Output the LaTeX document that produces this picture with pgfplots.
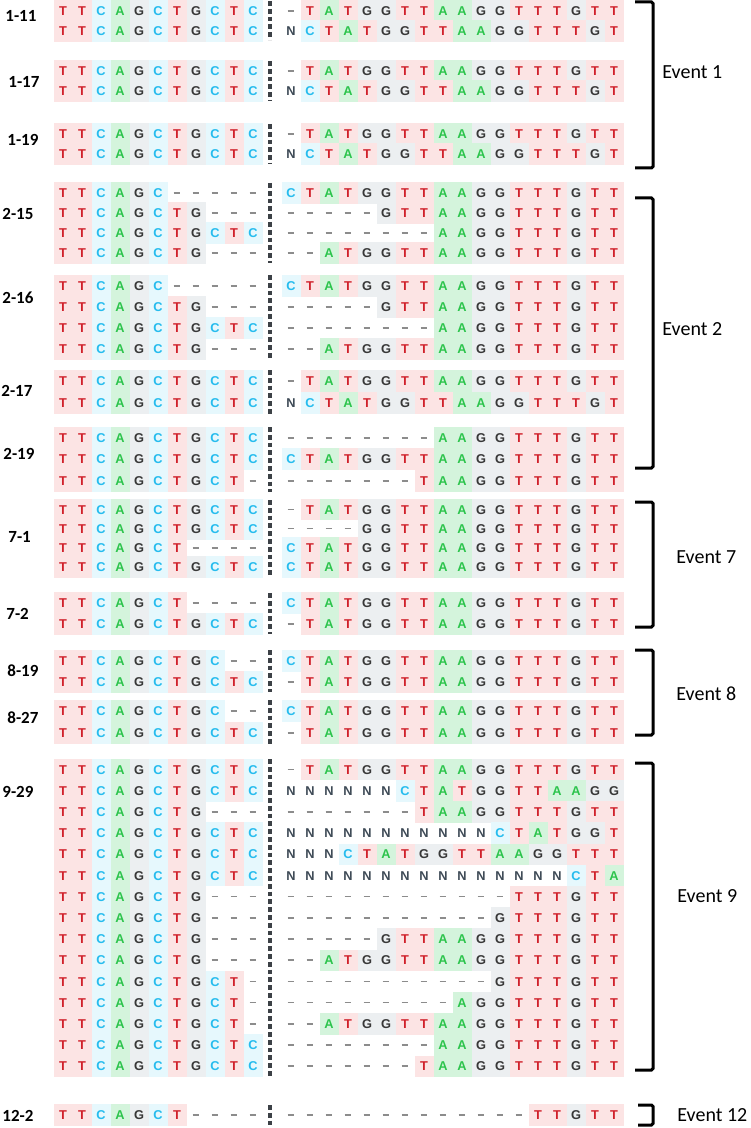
\documentclass[border=0pt]{standalone}
\usepackage{fontspec}
\setmainfont{Carlito}
\newfontfamily\seqfont{Liberation Sans}
\usepackage{pgfplots}
\pgfplotsset{compat=1.18}
\usepackage{pgfplotstable}

\definecolor{tT}{HTML}{D0202A}
\definecolor{bT}{HTML}{FCE4E4}
\definecolor{tC}{HTML}{26BCEE}
\definecolor{bC}{HTML}{E6F8FD}
\definecolor{tA}{HTML}{2CC44C}
\definecolor{bA}{HTML}{D4F4DC}
\definecolor{tG}{HTML}{383838}
\definecolor{bG}{HTML}{ECEFF1}
\definecolor{tN}{HTML}{3E4A56}
\definecolor{tGap}{HTML}{8C8C8C}
\definecolor{sepc}{HTML}{3C4146}

\newcommand\cellstrut{\rule[-3.1pt]{0pt}{10.75pt}}
\newcommand\cellbg[3]{{\setlength\fboxsep{0pt}\colorbox{#1}{\makebox[9.5pt]{\cellstrut\textcolor{#2}{\seqfont\bfseries #3}}}}}
\expandafter\def\csname cell@T\endcsname{\cellbg{bT}{tT}{T}}
\expandafter\def\csname cell@C\endcsname{\cellbg{bC}{tC}{C}}
\expandafter\def\csname cell@A\endcsname{\cellbg{bA}{tA}{A}}
\expandafter\def\csname cell@G\endcsname{\cellbg{bG}{tG}{G}}
\expandafter\def\csname cell@N\endcsname{\makebox[9.5pt]{\cellstrut\textcolor{tN}{\seqfont\bfseries N}}}
\expandafter\def\csname cell@-\endcsname{\makebox[9.5pt]{\cellstrut\textcolor{tGap}{\rule[2pt]{3.4pt}{0.8pt}}}}
\newcommand\cell[1]{\csname cell@#1\endcsname}

% alignment: y (pixel row), 11 columns before the cut, 18 columns after
\pgfplotstableread{
y      L0 L1 L2 L3 L4 L5 L6 L7 L8 L9 L10 R0 R1 R2 R3 R4 R5 R6 R7 R8 R9 R10 R11 R12 R13 R14 R15 R16 R17
11     T T C A G C T G C T C  - T A T G G T T A A G G T T T G T T
31     T T C A G C T G C T C  N C T A T G G T T A A G G T T T G T
71     T T C A G C T G C T C  - T A T G G T T A A G G T T T G T T
91     T T C A G C T G C T C  N C T A T G G T T A A G G T T T G T
134    T T C A G C T G C T C  - T A T G G T T A A G G T T T G T T
154    T T C A G C T G C T C  N C T A T G G T T A A G G T T T G T
193    T T C A G C - - - - -  C T A T G G T T A A G G T T T G T T
213    T T C A G C T G - - -  - - - - - G T T A A G G T T T G T T
233    T T C A G C T G C T C  - - - - - - - - A A G G T T T G T T
253    T T C A G C T G - - -  - - A T G G T T A A G G T T T G T T
286    T T C A G C - - - - -  C T A T G G T T A A G G T T T G T T
307    T T C A G C T G - - -  - - - - - G T T A A G G T T T G T T
328    T T C A G C T G C T C  - - - - - - - - A A G G T T T G T T
349    T T C A G C T G - - -  - - A T G G T T A A G G T T T G T T
381    T T C A G C T G C T C  - T A T G G T T A A G G T T T G T T
403    T T C A G C T G C T C  N C T A T G G T T A A G G T T T G T
438    T T C A G C T G C T C  - - - - - - - - A A G G T T T G T T
459    T T C A G C T G C T C  C T A T G G T T A A G G T T T G T T
481    T T C A G C T G C T -  - - - - - - - T A A G G T T T G T T
509.6  T T C A G C T G C T C  - T A T G G T T A A G G T T T G T T
528.8  T T C A G C T G C T C  - - - - G G T T A A G G T T T G T T
548    T T C A G C T - - - -  C T A T G G T T A A G G T T T G T T
567.2  T T C A G C T G C T C  C T A T G G T T A A G G T T T G T T
603    T T C A G C T - - - -  C T A T G G T T A A G G T T T G T T
624    T T C A G C T G C T C  - T A T G G T T A A G G T T T G T T
661    T T C A G C T G C - -  C T A T G G T T A A G G T T T G T T
682    T T C A G C T G C T C  - T A T G G T T A A G G T T T G T T
711    T T C A G C T G C - -  C T A T G G T T A A G G T T T G T T
733    T T C A G C T G C T C  - T A T G G T T A A G G T T T G T T
769.6  T T C A G C T G C T C  - T A T G G T T A A G G T T T G T T
790.8  T T C A G C T G C T C  N N N N N N C T A T G G T T A A G G
812.0  T T C A G C T G - - -  - - - - - - - T A A G G T T T G T T
833.2  T T C A G C T G C T C  N N N N N N N N N N N C T A T G G T
854.4  T T C A G C T G C T C  N N N C T A T G G T T A A G G T T T
875.6  T T C A G C T G C T C  N N N N N N N N N N N N N N N C T A
896.8  T T C A G C T G - - -  - - - - - - - - - - - - T T T G T T
918.0  T T C A G C T G - - -  - - - - - - - - - - - G T T T G T T
939.2  T T C A G C T G - - -  - - - - - G T T A A G G T T T G T T
960.4  T T C A G C T G - - -  - - A T G G T T A A G G T T T G T T
981.6  T T C A G C T G C T -  - - - - - - - - - - - G T T T G T T
1002.8 T T C A G C T G C T -  - - - - - - - - - A G G T T T G T T
1024.0 T T C A G C T G C T -  - - A T G G T T A A G G T T T G T T
1045.2 T T C A G C T G C T C  - - - - - - - - A A G G T T T G T T
1066.4 T T C A G C T G C T C  - - - - - - - T A A G G T T T G T T
1115   T T C A G C T - - - -  - - - - - - - - - - - - - T T G T T
}\aln

\begin{document}
\begin{tikzpicture}
\begin{axis}[
  x=0.5pt, y=0.5pt,
  xmin=0, xmax=750, ymin=0, ymax=1128, y dir=reverse,
  hide axis, clip=false,
  cellplot/.style={only marks, mark=none, point meta=explicit symbolic,
    nodes near coords={\cell{\pgfplotspointmeta}},
    every node near coord/.append style={anchor=center, inner sep=0pt, outer sep=0pt,
      font=\fontsize{6.4}{7}\selectfont}},
  sepline/.style={sepc, line width=1.6pt, dash pattern=on 2.4pt off 1.5pt, mark=none},
  bracket/.style={black, line width=1.5pt, rounded corners=0.8pt, mark=none},
]
\addplot[draw=none, mark=none] coordinates {(0,0) (750,1128)};

\pgfplotsinvokeforeach{0,...,10}{
  \addplot[cellplot] table[x expr={63+19*#1}, y=y, meta=L#1] {\aln};
}
\pgfplotsinvokeforeach{0,...,17}{
  \addplot[cellplot] table[x expr={291+19*#1}, y=y, meta=R#1] {\aln};
}

% cut marks between the two halves, one per clone
\addplot[sepline] coordinates {(270,1) (270,40)};
\addplot[sepline] coordinates {(270,61) (270,101)};
\addplot[sepline] coordinates {(270,124) (270,164)};
\addplot[sepline] coordinates {(270,183) (270,263)};
\addplot[sepline] coordinates {(270,275) (270,360)};
\addplot[sepline] coordinates {(270,370) (270,414)};
\addplot[sepline] coordinates {(270,427) (270,492)};
\addplot[sepline] coordinates {(270,500) (270,577)};
\addplot[sepline] coordinates {(270,593) (270,634)};
\addplot[sepline] coordinates {(270,650) (270,692)};
\addplot[sepline] coordinates {(270,700) (270,744)};
\addplot[sepline] coordinates {(270,759) (270,1077)};
\addplot[sepline] coordinates {(270,1105) (270,1126)};

% brackets
\addplot[bracket] coordinates {(635,2) (653,2) (653,168) (635,168)};
\addplot[bracket] coordinates {(635,198) (653,198) (653,468) (635,468)};
\addplot[bracket] coordinates {(635,502) (653,502) (653,627) (635,627)};
\addplot[bracket] coordinates {(635,650) (653,650) (653,735) (635,735)};
\addplot[bracket] coordinates {(635,763) (653,763) (653,1070) (635,1070)};
\addplot[bracket] coordinates {(638,1105) (653,1105) (653,1125) (638,1125)};

\begin{scope}[every node/.style={anchor=west, inner sep=0pt, font=\fontsize{10}{12}\selectfont}]
\node at (axis cs:662,72) {Event 1};
\node at (axis cs:662,329) {Event 2};
\node at (axis cs:676,557) {Event 7};
\node at (axis cs:676,694) {Event 8};
\node at (axis cs:677,896) {Event 9};
\node at (axis cs:677,1115) {Event 12};
\end{scope}

\begin{scope}[every node/.style={anchor=west, inner sep=0pt, font=\fontsize{8.5}{10}\selectfont\bfseries}]
\node at (axis cs:5,16) {1-11};
\node at (axis cs:8,82) {1-17};
\node at (axis cs:7,140) {1-19};
\node at (axis cs:2,214) {2-15};
\node at (axis cs:2,298) {2-16};
\node at (axis cs:1,391) {2-17};
\node at (axis cs:3,454) {2-19};
\node at (axis cs:8,537) {7-1};
\node at (axis cs:6,614) {7-2};
\node at (axis cs:7,671) {8-19};
\node at (axis cs:7,718) {8-27};
\node at (axis cs:2,792) {9-29};
\node at (axis cs:2,1116) {12-2};
\end{scope}
\end{axis}
\pgfresetboundingbox
\path (current axis.south west) rectangle (current axis.north east);
\end{tikzpicture}
\end{document}
